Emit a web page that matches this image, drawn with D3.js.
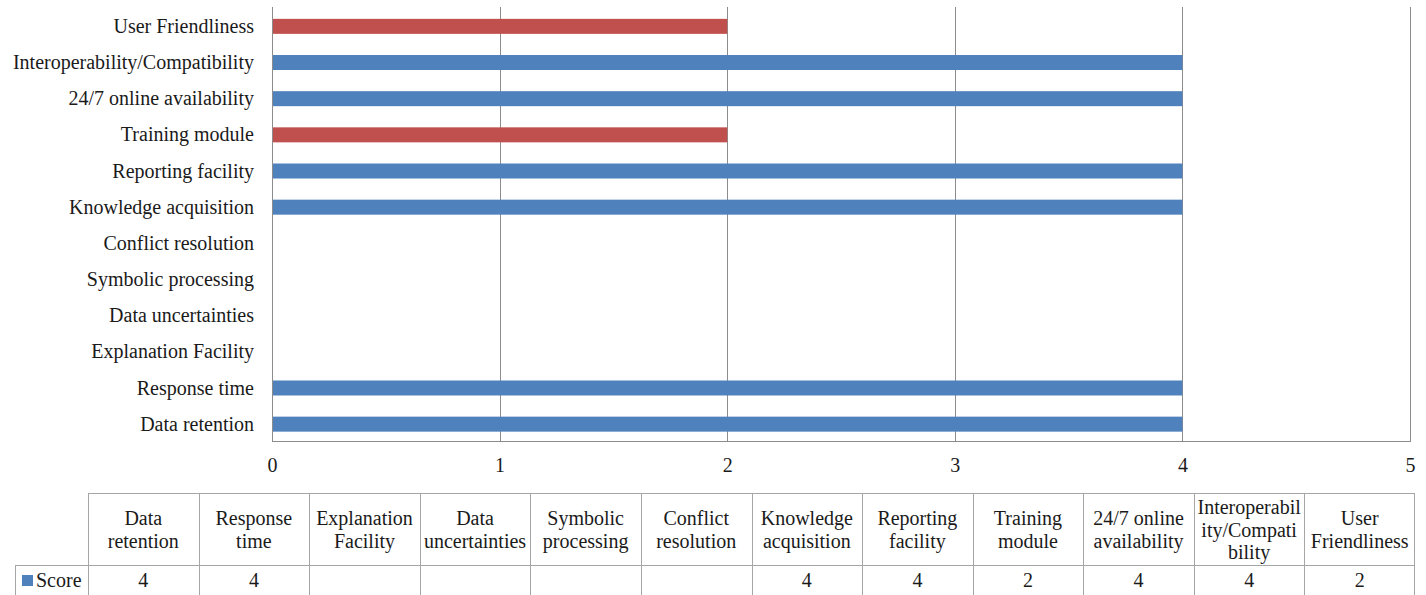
<!DOCTYPE html>
<html>
<head>
<meta charset="utf-8">
<script src="https://cdn.jsdelivr.net/npm/d3@7"></script>
<style>
  html, body { margin: 0; padding: 0; background: #fff; }
</style>
</head>
<body>
<svg id="chart" width="1426" height="595"></svg>
<script>
// ---- data ----
const categories = [
  "Data retention", "Response time", "Explanation Facility", "Data uncertainties",
  "Symbolic processing", "Conflict resolution", "Knowledge acquisition",
  "Reporting facility", "Training module", "24/7 online availability",
  "Interoperability/Compatibility", "User Friendliness"
];
const scores = [4, 4, null, null, null, null, 4, 4, 2, 4, 4, 2];
const seriesName = "Score";
const xTicks = [0, 1, 2, 3, 4, 5];
const headerLines = [
  ["Data", "retention"], ["Response", "time"], ["Explanation", "Facility"],
  ["Data", "uncertainties"], ["Symbolic", "processing"], ["Conflict", "resolution"],
  ["Knowledge", "acquisition"], ["Reporting", "facility"], ["Training", "module"],
  ["24/7 online", "availability"], ["Interoperabil", "ity/Compati", "bility"],
  ["User", "Friendliness"]
];
const highlightedCategories = ["Training module", "User Friendliness"];

// ---- layout / style ----
const blue = "#4F81BD", red = "#C0504D";
const gridColor = "#8c8c8c", tableColor = "#a6a6a6", textColor = "#1a1a1a";
const FONT = '"Liberation Serif", "Times New Roman", serif';
const fontSize = 20;
const plot = { left: 272, right: 1410, top: 7, bottom: 441 };

const svg = d3.select("#chart");

const x = d3.scaleLinear().domain([0, 5]).range([plot.left, plot.right]);
const y = d3.scaleBand()
  .domain(categories.slice().reverse())
  .range([plot.top + 1, plot.bottom + 1.5])
  .paddingInner(0.585).paddingOuter(0.3);

// gridlines
svg.append("g").selectAll("line")
  .data(xTicks.filter(t => t > 0))
  .join("line")
  .attr("x1", d => Math.round(x(d)) + 0.5).attr("x2", d => Math.round(x(d)) + 0.5)
  .attr("y1", plot.top).attr("y2", plot.bottom)
  .attr("stroke", gridColor).attr("stroke-width", 1);

// bars
const data = categories.map((c, i) => ({ c, v: scores[i] })).filter(d => d.v != null);
svg.append("g").selectAll("rect")
  .data(data)
  .join("rect")
  .attr("x", x(0))
  .attr("y", d => y(d.c) + (y.bandwidth() - 15) / 2)
  .attr("width", d => x(d.v) - x(0))
  .attr("height", 15)
  .attr("fill", d => highlightedCategories.includes(d.c) ? red : blue);

// y axis line + bottom line
svg.append("line")
  .attr("x1", plot.left + 0.5).attr("x2", plot.left + 0.5)
  .attr("y1", plot.top).attr("y2", plot.bottom)
  .attr("stroke", gridColor);
svg.append("line")
  .attr("x1", plot.left).attr("x2", plot.right + 1)
  .attr("y1", plot.bottom + 0.5).attr("y2", plot.bottom + 0.5)
  .attr("stroke", gridColor);

// y axis labels
const yAxis = d3.axisLeft(y).tickSize(0).tickPadding(18);
const gy = svg.append("g").attr("transform", `translate(${plot.left},0)`).call(yAxis);
gy.select(".domain").remove();
gy.selectAll("text")
  .style("font-family", FONT).style("font-size", fontSize + "px")
  .attr("fill", textColor).attr("dy", "0.33em");

// x axis tick labels
const xAxis = d3.axisBottom(x).tickValues(xTicks).tickSize(0).tickPadding(17).tickFormat(d3.format("d"));
const gx = svg.append("g").attr("transform", `translate(0,${plot.bottom})`).call(xAxis);
gx.select(".domain").remove();
gx.selectAll("text")
  .style("font-family", FONT).style("font-size", fontSize + "px")
  .attr("fill", textColor);

// ---- data table ----
const tbl = { left: 88, right: 1415, top: 493, mid: 565, bottom: 596, legendLeft: 15 };
const colX = d3.scaleBand().domain(categories).range([tbl.left, tbl.right]);
const tg = svg.append("g");
const line = (x1, y1, x2, y2) => tg.append("line")
  .attr("x1", x1).attr("y1", y1).attr("x2", x2).attr("y2", y2)
  .attr("stroke", tableColor).attr("stroke-width", 1);

line(tbl.left, tbl.top + 0.5, tbl.right, tbl.top + 0.5);
line(tbl.legendLeft, tbl.mid + 0.5, tbl.right, tbl.mid + 0.5);
line(tbl.legendLeft, tbl.bottom - 0.5, tbl.right, tbl.bottom - 0.5);
line(tbl.legendLeft + 0.5, tbl.mid, tbl.legendLeft + 0.5, tbl.bottom);
categories.forEach(c => {
  const cx = Math.round(colX(c)) + 0.5;
  line(cx, tbl.top, cx, tbl.bottom);
});
line(tbl.right - 0.5, tbl.top, tbl.right - 0.5, tbl.bottom);

const txt = (sel) => sel.style("font-family", FONT).style("font-size", fontSize + "px").attr("fill", textColor);

// header texts
const lh = 22.5;
const headerCenter = (tbl.top + tbl.mid) / 2 + 1;
categories.forEach((c, i) => {
  const lines = headerLines[i];
  const cx = colX(c) + colX.bandwidth() / 2;
  const startY = headerCenter - (lines.length - 1) * lh / 2;
  const t = tg.append("text").attr("text-anchor", "middle").call(txt);
  lines.forEach((l, j) => {
    t.append("tspan").attr("x", cx).attr("y", startY + j * lh).attr("dy", "0.33em").text(l);
  });
});

// value row
const rowCenter = (tbl.mid + tbl.bottom) / 2;
categories.forEach((c, i) => {
  if (scores[i] == null) return;
  tg.append("text")
    .attr("x", colX(c) + colX.bandwidth() / 2)
    .attr("y", rowCenter).attr("dy", "0.33em")
    .attr("text-anchor", "middle").call(txt)
    .text(scores[i]);
});

// legend key in table
tg.append("rect").attr("x", 22).attr("y", rowCenter - 5.5).attr("width", 11).attr("height", 11).attr("fill", blue);
tg.append("text")
  .attr("x", 36).attr("y", rowCenter).attr("dy", "0.33em").call(txt)
  .text(seriesName);
</script>
</body>
</html>
